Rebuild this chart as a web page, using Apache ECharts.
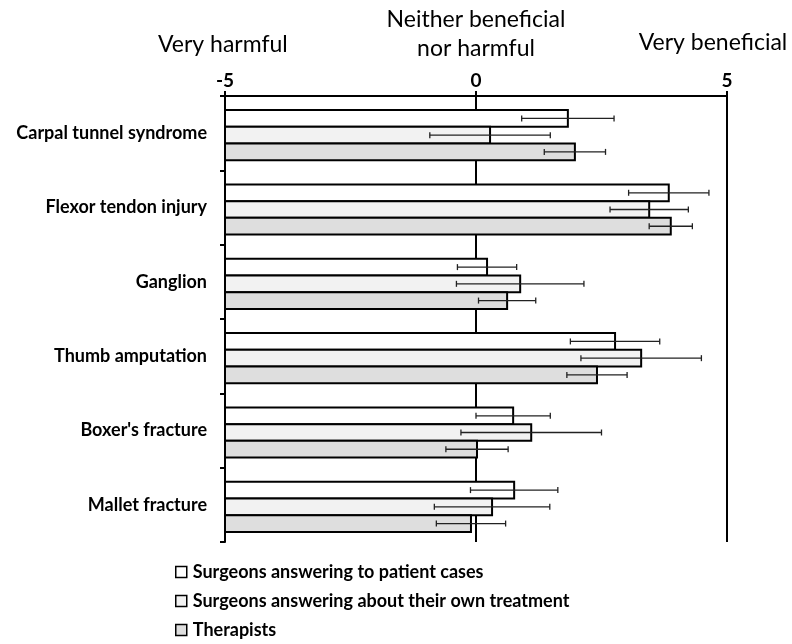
<!DOCTYPE html>
<html>
<head>
<meta charset="utf-8">
<script src="https://cdn.jsdelivr.net/npm/echarts@6/dist/echarts.min.js"></script>
<style>
  html, body { margin: 0; padding: 0; background: #fff; }
  #chart { width: 792px; height: 644px; }
</style>
</head>
<body>
<div id="chart"></div>
<script>
const categories = ['Carpal tunnel syndrome', 'Flexor tendon injury', 'Ganglion', 'Thumb amputation', "Boxer's fracture", 'Mallet fracture']
const seriesNames = ['Surgeons answering to patient cases', 'Surgeons answering about their own treatment', 'Therapists']

// mean scores (-5 very harmful .. 5 very beneficial)
const patientCases = [1.83, 3.84, 0.22, 2.77, 0.74, 0.76]
const ownTreatment = [0.28, 3.45, 0.88, 3.29, 1.10, 0.32]
const therapists   = [1.97, 3.88, 0.62, 2.41, 0.02, -0.10]

// error bar half-widths
const patientCasesErr = [0.92, 0.80, 0.59, 0.89, 0.74, 0.87]
const ownTreatmentErr = [1.20, 0.78, 1.27, 1.20, 1.40, 1.15]
const therapistsErr   = [0.61, 0.43, 0.57, 0.60, 0.62, 0.69]

const xTicks = [-5, 0, 5]
const FONT = 'Lato'
const FILLS = ['#ffffff', '#f2f2f2', '#dedede']

const chart = echarts.init(document.getElementById('chart'))

function makeSeries(idx, values, errs) {
  return {
    name: seriesNames[idx],
    type: 'custom',
    itemStyle: { color: FILLS[idx], borderColor: '#000', borderWidth: 1.5 },
    encode: { x: 1, y: 0 },
    data: values.map((v, i) => [i, v, errs[i]]),
    renderItem: (params, api) => {
      const cat = api.value(0), val = api.value(1), err = api.value(2)
      const band = api.size([0, 1])[1]
      const h = band * 0.225
      const start = api.coord([xTicks[0], cat])
      const end = api.coord([val, cat])
      const yc = start[1] + (idx - 1) * h + 2
      const lo = api.coord([val - err, cat])[0]
      const hi = api.coord([val + err, cat])[0]
      const cap = 3
      return {
        type: 'group',
        children: [
          { type: 'rect', shape: { x: start[0], y: yc - h / 2, width: end[0] - start[0], height: h },
            style: { fill: FILLS[idx], stroke: '#000', lineWidth: 2 } },
          { type: 'line', shape: { x1: lo, y1: yc, x2: hi, y2: yc }, style: { stroke: '#222', lineWidth: 1.3 } },
          { type: 'line', shape: { x1: lo, y1: yc - cap, x2: lo, y2: yc + cap }, style: { stroke: '#222', lineWidth: 1.3 } },
          { type: 'line', shape: { x1: hi, y1: yc - cap, x2: hi, y2: yc + cap }, style: { stroke: '#222', lineWidth: 1.3 } },
        ],
      }
    },
  }
}

chart.setOption({
  animation: false,
  grid: { left: 225, right: 65, top: 96, bottom: 102 },
  textStyle: { fontFamily: FONT },
  xAxis: {
    type: 'value', position: 'top',
    min: -5, max: 5, interval: 5,
    axisLine: { show: true, lineStyle: { color: '#000', width: 2 } },
    axisTick: { show: true, length: 5, lineStyle: { color: '#000', width: 2 } },
    axisLabel: { fontSize: 19, fontWeight: 'bold', color: '#000', margin: 6, fontFamily: FONT },
    splitLine: { show: true, lineStyle: { color: '#000', width: 2 } },
  },
  yAxis: {
    type: 'category', inverse: true, data: categories,
    axisLine: { show: true, onZero: false, lineStyle: { color: '#000', width: 2 } },
    axisTick: { show: true, length: 5, lineStyle: { color: '#000', width: 2 } },
    axisLabel: { fontSize: 18, fontWeight: 'bold', color: '#000', margin: 18, fontFamily: FONT },
  },
  legend: {
    orient: 'vertical', left: 175, top: 563, padding: 0, height: 90,
    itemGap: 11, itemWidth: 11, itemHeight: 11,
    icon: 'rect',
    textStyle: { fontSize: 18, fontWeight: 'bold', color: '#000', fontFamily: FONT, padding: [0, 0, 0, 1] },
    itemStyle: { borderColor: '#000', borderWidth: 1.5 },
    data: seriesNames,
  },
  graphic: [
    { type: 'text', left: 158, top: 33, style: { text: 'Very harmful', fontSize: 23, fontFamily: FONT, fill: '#000' } },
    { type: 'text', x: 476, y: 5, style: { text: 'Neither beneficial\nnor harmful', fontSize: 23, lineHeight: 29, fontFamily: FONT, fill: '#000', align: 'center' } },
    { type: 'text', x: 713, y: 31, style: { text: 'Very beneficial', fontSize: 23, fontFamily: FONT, fill: '#000', align: 'center' } },
  ],
  series: [
    makeSeries(0, patientCases, patientCasesErr),
    makeSeries(1, ownTreatment, ownTreatmentErr),
    makeSeries(2, therapists, therapistsErr),
  ],
})
</script>
</body>
</html>
